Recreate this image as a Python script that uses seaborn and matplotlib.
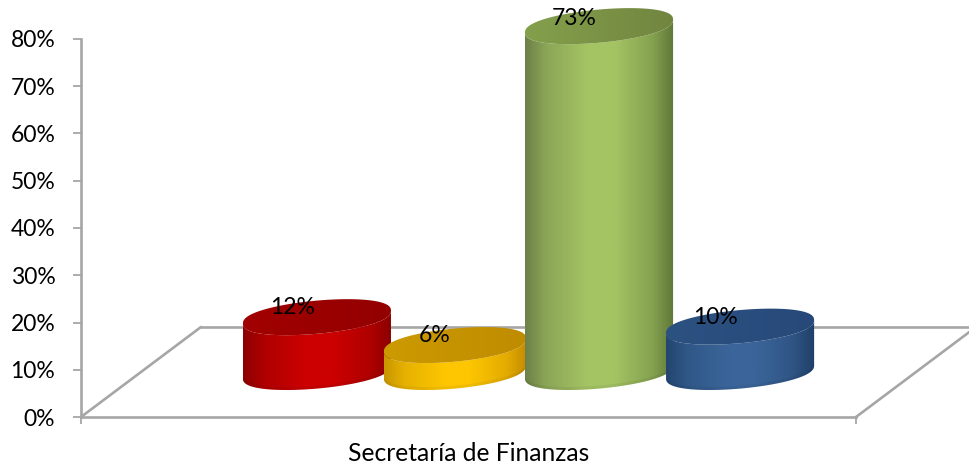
import numpy as np
import pandas as pd
import matplotlib
matplotlib.use('Agg')
import matplotlib.pyplot as plt
import seaborn as sns
from matplotlib.colors import LinearSegmentedColormap, to_rgb
from matplotlib.patches import Polygon

categories = ['Secretaría de Finanzas']
series = ['A', 'B', 'C', 'D']
values = [11.6, 5.7, 73.2, 9.6]
y_ticks = [0, 10, 20, 30, 40, 50, 60, 70, 80]

edge_left = ['#8c0000', '#c99600', '#6d8048', '#234670']
mid_colors = ['#cc0000', '#fdc600', '#a4c464', '#3b659a']
edge_right = ['#8a0000', '#c48c00', '#5f7839', '#1f4068']
top_left = ['#a20000', '#cc9a00', '#84a04c', '#2c5282']
top_right = ['#930000', '#bf8c00', '#71853f', '#27497a']

grey = '#a6a6a6'
W, H = 969, 470
AX_L, AX_R, AX_B, AX_T = 81, 856, 417, 39
px_x = 1 / (AX_R - AX_L)
px_y = 80 / (AX_B - AX_T)
depth_x = 120 * px_x
depth_y = 90 * px_y

sns.set_style('white')
plt.rcParams['font.family'] = ['Lato', 'DejaVu Sans']

fig = plt.figure(figsize=(W / 100, H / 100), dpi=100)
ax = fig.add_axes([AX_L / W, 1 - AX_B / H, (AX_R - AX_L) / W, (AX_B - AX_T) / H])

df = pd.DataFrame({'category': categories * len(series), 'series': series, 'value': values})
sns.barplot(data=df, x='category', y='value', hue='series', palette=mid_colors,
            width=0.728, legend=False, saturation=1, ax=ax)


def ring(cx, cy, a, t):
    # sheared ellipse, the right side sits higher than the left, slightly rounder than a true one
    b = 16.6 * px_y
    shear = 6.5 * px_y
    s = np.sign(np.sin(t)) * np.abs(np.sin(t)) ** 0.85
    return np.column_stack([cx + a * np.cos(t), cy + b * s + shear * np.cos(t)])


def blend(c1, c2, f):
    return tuple(np.array(to_rgb(c1)) * (1 - f) + np.array(to_rgb(c2)) * f)


def gradient(pts, x0, x1, y0, y1, colors, z):
    cmap = LinearSegmentedColormap.from_list('g', colors)
    im = ax.imshow(np.linspace(0, 1, 300).reshape(1, -1), cmap=cmap, aspect='auto',
                   extent=[x0, x1, y0, y1], zorder=z, interpolation='bilinear')
    im.set_clip_path(Polygon(pts, closed=True, transform=ax.transData))
    im.set_clip_box(fig.bbox)


# floor of the 3D chart
ax.plot([-0.5, -0.5 + depth_x], [0, depth_y], color=grey, lw=1.9, zorder=1, clip_on=False)
ax.plot([-0.5 + depth_x, 0.5 + depth_x], [depth_y, depth_y], color=grey, lw=1.9, zorder=1, clip_on=False)
ax.plot([0.5, 0.5 + depth_x], [0, depth_y], color=grey, lw=1.9, zorder=1, clip_on=False)

down = np.linspace(np.pi, 2 * np.pi, 80)
full = np.linspace(0, 2 * np.pi, 160)
nudge = [0, -3, 0, 0]
size = [1.0, 0.96, 1.0, 1.0]
label_dx = [-24, -20, -25, -25]
label_dy = [-10, -10, -8, -9]

for i, bar in enumerate(ax.patches):
    bar.set_visible(False)
    w = bar.get_width()
    v = bar.get_height()
    cx = bar.get_x() + w / 2 + depth_x / 2 + nudge[i] * px_x
    a = w * 0.525 * size[i]
    base = depth_y / 2
    top = base + v
    z = 3 + i

    low = ring(cx, base, a, down)
    upper = ring(cx, top, a, down)[::-1]
    stops = [(0, edge_left[i]), (0.14, blend(edge_left[i], mid_colors[i], 0.55)),
             (0.42, mid_colors[i]), (0.6, mid_colors[i]),
             (0.86, blend(edge_right[i], mid_colors[i], 0.55)), (1, edge_right[i])]
    gradient(np.vstack([low, upper]), cx - a, cx + a, base - 6, top + 6, stops, z)
    # faint darker rim at the foot of the cylinder
    rim = ring(cx, base + 3 * px_y, a, down)[::-1]
    ax.add_patch(Polygon(np.vstack([low, rim]), closed=True, fc='black', ec='none',
                         alpha=0.05, zorder=z + 0.1, clip_on=False))
    gradient(ring(cx, top, a, full), cx - a, cx + a, top - 6, top + 6,
             [top_left[i], top_right[i]], z + 0.2)

    ax.annotate(f'{values[i]:.0f}%', (cx, top),
                xytext=(label_dx[i] * 0.72, -label_dy[i] * 0.72), textcoords='offset points',
                ha='center', va='center', fontsize=16.5, color='black', zorder=20,
                annotation_clip=False)

ax.set_xlim(-0.5, 0.5)
ax.set_ylim(0, 80)
ax.set_xlabel('')
ax.set_ylabel('')
ax.set_yticks(y_ticks)
ax.set_yticklabels([f'{t}%' for t in y_ticks])
ax.set_xticks([-0.5, 0.5], minor=True)
ax.tick_params(axis='y', length=5.5, width=1.3, color=grey, left=True, pad=13, labelsize=16.5, labelcolor='black')
ax.tick_params(axis='x', which='major', length=0, pad=18, labelsize=17.7, labelcolor='black')
ax.tick_params(axis='x', which='minor', length=5, width=1.3, color=grey, bottom=True)
for name in ['top', 'right']:
    ax.spines[name].set_visible(False)
for name in ['left', 'bottom']:
    ax.spines[name].set_color(grey)
    ax.spines[name].set_linewidth(1.9)

fig.savefig('out.png', dpi=100)
